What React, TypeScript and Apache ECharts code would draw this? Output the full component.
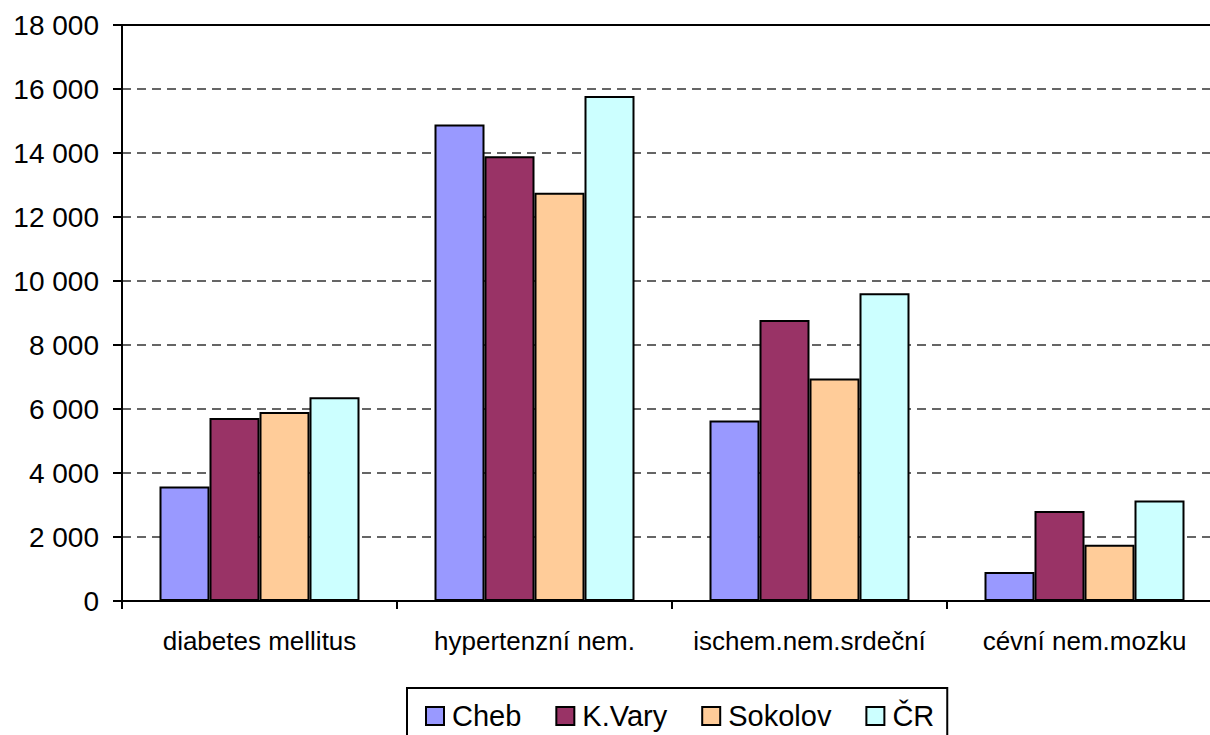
import React, { useEffect, useRef } from "react";
import * as echarts from "echarts";

const categories = ["diabetes mellitus", "hypertenzní nem.", "ischem.nem.srdeční", "cévní nem.mozku"];
const seriesNames = ["Cheb", "K.Vary", "Sokolov", "ČR"];
const cheb = [3580, 14890, 5640, 910];
const kVary = [5720, 13900, 8780, 2810];
const sokolov = [5910, 12760, 6950, 1760];
const cr = [6370, 15780, 9620, 3140];
const colors = ["#9999FF", "#993366", "#FFCC99", "#CCFFFF"];
const yTicks = { min: 0, max: 18000, interval: 2000 };

const FONT = "'Liberation Sans', Arial, sans-serif";

export default function App() {
  const ref = useRef<HTMLDivElement>(null);
  useEffect(() => {
    if (!ref.current) return;
    const chart = echarts.init(ref.current, undefined, { renderer: "svg" });
    const values = [cheb, kVary, sokolov, cr];
    chart.setOption({
      animation: false,
      backgroundColor: "#ffffff",
      textStyle: { fontFamily: FONT },
      grid: { left: 122, top: 25, width: 1100, height: 576, containLabel: false },
      legend: {
        data: seriesNames,
        left: 407,
        top: 688,
        borderColor: "#000",
        borderWidth: 2,
        padding: [13, 13, 30, 18],
        itemWidth: 18,
        itemHeight: 18,
        itemGap: 34,
        textStyle: {
          fontSize: 29,
          lineHeight: 30,
          color: "#000",
          fontFamily: FONT,
          padding: [0, 0, 0, 3],
        },
        icon: "rect",
      },
      xAxis: [
        {
          type: "category",
          data: categories,
          axisLine: { show: true, lineStyle: { color: "#000", width: 2 } },
          axisTick: { show: true, length: 8, lineStyle: { color: "#000", width: 2 } },
          axisLabel: { fontSize: 26, color: "#000", margin: 27, fontFamily: FONT, interval: 0 },
          splitLine: { show: false },
        },
        {
          type: "category",
          data: categories,
          position: "top",
          axisLine: { show: true, lineStyle: { color: "#000", width: 2 } },
          axisTick: { show: false },
          axisLabel: { show: false },
          splitLine: { show: false },
        },
      ],
      yAxis: {
        type: "value",
        min: yTicks.min,
        max: yTicks.max,
        interval: yTicks.interval,
        axisLine: { show: true, lineStyle: { color: "#000", width: 2 } },
        axisTick: { show: true, length: 9, lineStyle: { color: "#000", width: 2 } },
        axisLabel: {
          fontSize: 28,
          color: "#000",
          margin: 23,
          fontFamily: FONT,
          formatter: (v: number) => String(v).replace(/\B(?=(\d{3})+(?!\d))/g, " "),
        },
        splitLine: { show: true, lineStyle: { color: "#333", width: 1.5, type: [9, 6] } },
      },
      series: seriesNames.map((name, i) => ({
        name,
        type: "bar",
        xAxisIndex: 0,
        data: values[i],
        barWidth: 50,
        barGap: "0%",
        itemStyle: { color: colors[i], borderColor: "#000", borderWidth: 2 },
      })),
    });
    return () => chart.dispose();
  }, []);
  return (
    <div style={{ position: "fixed", left: 0, top: 0, width: 1210, height: 735, overflow: "hidden" }}>
      <div ref={ref} style={{ width: 1250, height: 735 }} />
    </div>
  );
}
